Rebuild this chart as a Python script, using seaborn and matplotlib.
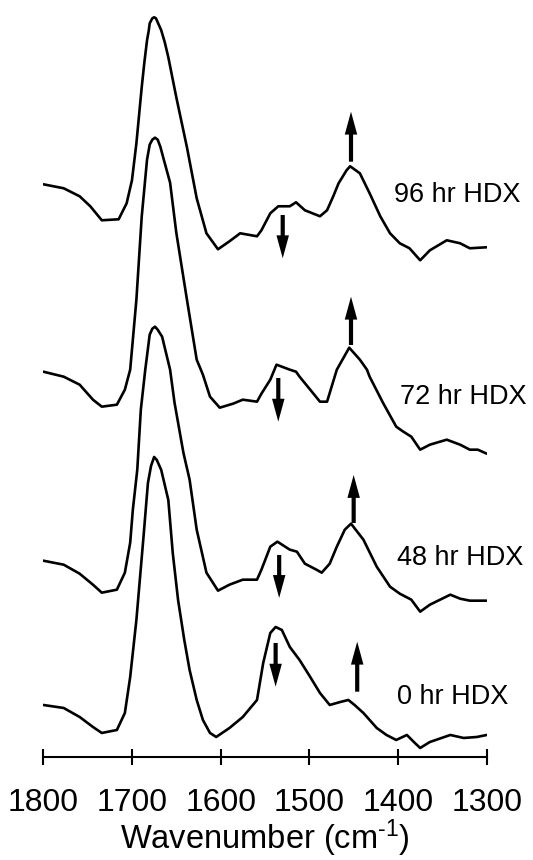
import numpy as np
import pandas as pd
import matplotlib
matplotlib.use("Agg")
import matplotlib.pyplot as plt
import seaborn as sns

# ---- data (absorbance in arbitrary units, each relative to its own baseline) ----
labels = ["0 hr HDX", "48 hr HDX", "72 hr HDX", "96 hr HDX"]
offsets = [0.0, 1.443, 3.333, 5.207]

wn_0 = [1800,1777,1759,1744,1734,1717,1708,1702,1695,1687,1682,1678.5,1675,1672,1667,1659,1654,1648,1641,1635,1627,1620,
        1612,1605,1590,1575,1559,1552,1544,1538,1531,1522,1511,1499,1488,1477,1465,1456,1449,1439,1424,1413,
        1402,1390,1381,1375,1364,1341,1326,1311,1300]
ab_0 = [0,-0.03,-0.12,-0.22,-0.28,-0.25,-0.08,0.28,0.85,1.68,2.22,2.39,2.48,2.45,2.35,2.05,1.52,1.05,0.65,0.35,0.05,-0.15,
        -0.28,-0.32,-0.23,-0.12,0.05,0.42,0.72,0.78,0.75,0.58,0.45,0.28,0.12,0,0.03,0.05,0,-0.08,-0.23,-0.30,
        -0.35,-0.30,-0.38,-0.43,-0.37,-0.30,-0.33,-0.32,-0.30]

wn_48 = [1800,1777,1759,1744,1734,1717,1708,1702,1699,1694,1690,1685,1680,1677,1674,1671,1666,1657,1652,1642,1635,1627,
         1616,1603,1590,1575,1559,1554,1544,1536,1522,1514,1505,1492,1486,1477,1469,1460,1453,1439,1424,1409,
         1398,1385,1375,1364,1341,1330,1319,1300]
ab_48 = [0,-0.04,-0.13,-0.24,-0.32,-0.29,-0.12,0.18,0.51,0.91,1.51,1.91,2.26,2.32,2.34,2.31,2.24,1.91,1.58,1.08,0.81,0.31,
         -0.12,-0.30,-0.24,-0.19,-0.19,-0.09,0.14,0.19,0.11,0.09,-0.03,-0.09,-0.12,-0.03,0.14,0.31,0.37,0.21,-0.06,-0.26,
         -0.33,-0.39,-0.51,-0.44,-0.34,-0.38,-0.40,-0.40]

wn_72 = [1800,1777,1759,1744,1734,1717,1708,1702,1695,1689,1683,1680,1677,1674,1671,1668,1665,1657,1650,1638,1627,1620,1612,
         1601,1586,1575,1559,1554,1544,1537,1522,1515,1511,1499,1488,1480,1469,1455,1443,1435,1432,1417,1402,
         1394,1385,1375,1364,1345,1330,1319,1310,1300]
ab_72 = [0,-0.05,-0.13,-0.28,-0.35,-0.33,-0.18,0.02,0.72,1.55,2.12,2.27,2.32,2.34,2.32,2.25,2.15,1.89,1.39,0.72,0.12,-0.03,-0.25,
         -0.36,-0.32,-0.28,-0.30,-0.22,-0.08,0.07,0.02,0,-0.05,-0.18,-0.30,-0.30,0.02,0.24,0.12,0.02,-0.05,-0.31,-0.55,
         -0.60,-0.65,-0.78,-0.73,-0.68,-0.73,-0.78,-0.78,-0.82]

wn_96 = [1800,1777,1759,1747,1734,1715,1706,1700,1695,1689,1686,1683,1681,1680,1677,1675,1673,1671,1667,1663,1659,1650,1638,1627,1616,1603,
         1590,1578,1559,1554,1544,1535,1522,1515,1505,1488,1480,1473,1467,1458,1454,1443,1432,1420,1409,1398,
         1387,1375,1364,1345,1330,1319,1300]
ab_96 = [0,-0.04,-0.12,-0.22,-0.36,-0.35,-0.19,0.04,0.41,0.97,1.22,1.44,1.54,1.61,1.66,1.67,1.66,1.62,1.54,1.42,1.27,0.87,0.37,-0.14,-0.49,-0.65,
         -0.57,-0.49,-0.52,-0.46,-0.29,-0.22,-0.22,-0.18,-0.26,-0.32,-0.26,-0.12,0.01,0.14,0.18,0.11,-0.09,-0.32,-0.49,-0.59,
         -0.64,-0.76,-0.66,-0.56,-0.59,-0.64,-0.63]

# arrows: (wavenumber, tail, tip) in stacked absorbance units
arrow_x    = [1446, 1538, 1450, 1534, 1453, 1535, 1453, 1530]
arrow_tail = [0.133, 0.62, 1.82, 1.50, 3.60, 3.27, 5.433, 4.90]
arrow_tip  = [0.633, 0.183, 2.30, 1.07, 4.083, 2.833, 5.933, 4.467]

label_x = [1401, 1401, 1398, 1404]
label_y = [0.08, 1.47, 3.08, 5.10]

xticks = [1800, 1700, 1600, 1500, 1400, 1300]

# ---- build long table ----
frames = []
for lab, off, wn, ab in zip(labels, offsets, [wn_0, wn_48, wn_72, wn_96], [ab_0, ab_48, ab_72, ab_96]):
    frames.append(pd.DataFrame({"wn": wn, "A": np.array(ab) + off, "sample": lab}))
df = pd.concat(frames, ignore_index=True)

sns.set_theme(style="white")
plt.rcParams["font.family"] = ["Liberation Sans", "DejaVu Sans"]
plt.rcParams["mathtext.default"] = "regular"
plt.rcParams["text.color"] = "black"
plt.rcParams["axes.labelcolor"] = "black"
plt.rcParams["xtick.color"] = "black"

fig = plt.figure(figsize=(5.33, 8.60), dpi=100)
ax = fig.add_axes([0.0812, 0.1198, 0.8319, 0.8686])

for lab in labels:
    sub = df[df["sample"] == lab]
    sns.lineplot(data=sub, x="wn", y="A", ax=ax, color="black", linewidth=1.9,
                 sort=False, estimator=None, legend=False)

for xa, t0, t1 in zip(arrow_x, arrow_tail, arrow_tip):
    ax.annotate("", xy=(xa, t1), xytext=(xa, t0),
                arrowprops=dict(arrowstyle="simple,head_length=1.65,head_width=0.9,tail_width=0.3",
                                mutation_scale=10, color="black", shrinkA=0, shrinkB=0, lw=0))

for lab, lx, ly in zip(labels, label_x, label_y):
    ax.text(lx, ly, lab, ha="left", va="center", fontsize=19.5, color="black", clip_on=False)

ax.set_xlim(1800, 1300)
ax.set_ylim(-0.52, 6.95)
ax.set_xticks(xticks)
ax.set_xticklabels([str(t) for t in xticks])
ax.set_yticks([])
ax.set_ylabel("")
ax.set_xlabel("Wavenumber (cm$^{\u2010 1}$)", fontsize=23.5, labelpad=0, color="black")
for s in ["top", "right", "left"]:
    ax.spines[s].set_visible(False)
ax.spines["bottom"].set_color("black")
ax.spines["bottom"].set_linewidth(1.5)
ax.tick_params(axis="x", direction="inout", length=12, width=1.5, colors="black",
               labelsize=23, pad=16, bottom=True)
ax.patch.set_alpha(0)

fig.savefig("out.png", dpi=100)
